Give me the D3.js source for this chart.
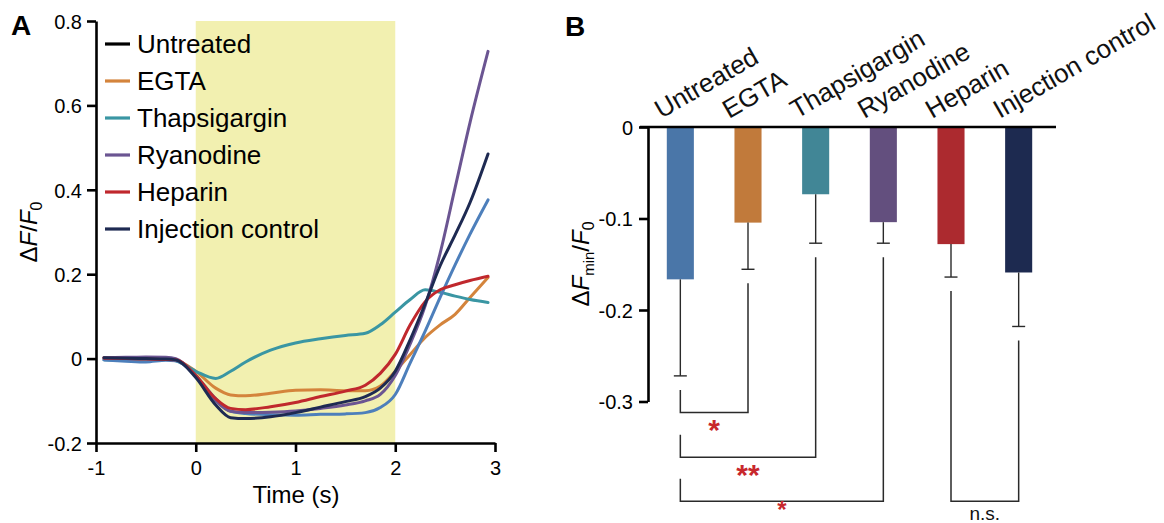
<!DOCTYPE html>
<html><head><meta charset="utf-8">
<script src="https://cdn.jsdelivr.net/npm/d3@7/dist/d3.min.js"></script>
<style>
body{margin:0;background:#fff;}
svg{display:block;font-family:"Liberation Sans",Arial,Helvetica,sans-serif;}
</style></head>
<body><svg id="c" width="1164" height="523"></svg>
<script>
// ---------- DATA ----------
const seriesNames = ["Untreated","EGTA","Thapsigargin","Ryanodine","Heparin","Injection control"];
const time = [-0.92,-0.7,-0.5,-0.3,-0.2,0,0.2,0.35,0.5,0.75,1.0,1.25,1.5,1.7,1.85,2.0,2.15,2.3,2.45,2.6,2.75,2.93];
const untreated   = [-0.003,-0.006,-0.008,-0.004,-0.005,-0.04,-0.095,-0.125,-0.13,-0.133,-0.134,-0.132,-0.131,-0.128,-0.116,-0.085,-0.01,0.065,0.145,0.222,0.295,0.376];
const egta        = [0.002,0.001,0.0,-0.002,-0.004,-0.03,-0.07,-0.086,-0.088,-0.082,-0.075,-0.074,-0.076,-0.076,-0.065,-0.03,0.01,0.05,0.08,0.105,0.145,0.192];
const thapsigargin= [-0.003,-0.004,-0.003,-0.002,-0.005,-0.03,-0.047,-0.03,-0.008,0.02,0.037,0.047,0.055,0.06,0.08,0.11,0.14,0.163,0.157,0.148,0.14,0.133];
const ryanodine   = [0.002,0.003,0.004,0.003,0.0,-0.04,-0.1,-0.125,-0.128,-0.127,-0.124,-0.118,-0.11,-0.1,-0.085,-0.04,0.035,0.125,0.25,0.405,0.56,0.728];
const heparin     = [0.001,0.0,-0.001,-0.002,-0.003,-0.04,-0.095,-0.118,-0.121,-0.114,-0.104,-0.09,-0.077,-0.063,-0.035,0.01,0.08,0.135,0.163,0.175,0.185,0.195];
const injection   = [0.002,0.001,0.0,-0.001,-0.003,-0.045,-0.11,-0.14,-0.142,-0.138,-0.128,-0.115,-0.102,-0.09,-0.07,-0.03,0.045,0.13,0.22,0.293,0.37,0.485];
const stimulus = [0, 2];
const xTicksA = [-1,0,1,2,3];
const xTickLabelsA = ["-1","0","1","2","3"];
const yTicksA = [-0.2,0,0.2,0.4,0.6,0.8];
const yTickLabelsA = ["-0.2","0","0.2","0.4","0.6","0.8"];

const barMeans = [-0.1665,-0.1045,-0.0735,-0.104,-0.128,-0.159];
const barErrEnds = [-0.272,-0.1555,-0.127,-0.127,-0.164,-0.218];
const yTicksB = [0,-0.1,-0.2,-0.3];
const yTickLabelsB = ["0","-0.1","-0.2","-0.3"];
const brackets = [ // [from, to, label, level]
  [0,1,"*",-0.312],
  [0,2,"**",-0.361],
  [0,3,"*",-0.409],
  [4,5,"n.s.",-0.409]
];

// ---------- STYLE ----------
const lineColors = ["#4d7fbb","#d4843c","#3a96a3","#6b5592","#c0282d","#1e2a52"];
const legendColors = ["#000000","#d4843c","#3a96a3","#6b5592","#c0282d","#1e2a52"];
const barColors = ["#4a76a8","#c17a3b","#418696","#634f7e","#ac2a2f","#1d2a50"];
const drawOrder = [1,2,0,3,4,5];

const svg = d3.select("#c");

// ---------- PANEL A ----------
const xA = d3.scaleLinear().domain([-1,3]).range([96,495]);
const yA = d3.scaleLinear().domain([-0.2,0.8]).range([443,21]);
const gA = svg.append("g");

gA.append("rect")
  .attr("x", xA(stimulus[0])).attr("y", yA(0.8))
  .attr("width", xA(stimulus[1]) - xA(stimulus[0]))
  .attr("height", yA(-0.2) - yA(0.8))
  .attr("fill", "#f2f0b0");

const seriesData = [untreated, egta, thapsigargin, ryanodine, heparin, injection];
const line = d3.line().x((d,i)=>xA(time[i])).y(d=>yA(d)).curve(d3.curveMonotoneX);
drawOrder.forEach(k=>{
  gA.append("path").datum(seriesData[k])
    .attr("d", line).attr("fill","none")
    .attr("stroke", lineColors[k]).attr("stroke-width",3)
    .attr("stroke-linecap","round").attr("stroke-linejoin","round");
});

const axA_y = gA.append("g").attr("transform","translate(96,0)")
  .call(d3.axisLeft(yA).tickValues(yTicksA).tickSize(9).tickSizeOuter(0).tickPadding(5)
    .tickFormat((d,i)=>yTickLabelsA[i]));
const axA_x = gA.append("g").attr("transform","translate(0,443)")
  .call(d3.axisBottom(xA).tickValues(xTicksA).tickSize(9).tickSizeOuter(0).tickPadding(9)
    .tickFormat((d,i)=>xTickLabelsA[i]));
[axA_y, axA_x].forEach(a=>{
  a.select(".domain").attr("stroke","#000").attr("stroke-width",2.6);
  a.selectAll(".tick line").attr("stroke","#000").attr("stroke-width",2.6);
  a.selectAll(".tick text").attr("font-size",20).attr("fill","#000")
    .attr("font-family","Liberation Sans, Arial, sans-serif");
});
axA_y.selectAll(".tick text").attr("dy","0.36em");

// legend
seriesNames.forEach((n,i)=>{
  const y = 44 + i*37;
  gA.append("line").attr("x1",105).attr("x2",130).attr("y1",y).attr("y2",y)
    .attr("stroke",legendColors[i]).attr("stroke-width",3.2);
  gA.append("text").attr("x",137).attr("y",y+9).attr("font-size",26).text(n);
});

// axis labels
gA.append("text").attr("x",296).attr("y",503).attr("text-anchor","middle")
  .attr("font-size",24).text("Time (s)");
const yla = gA.append("text").attr("transform","translate(37,232) rotate(-90)")
  .attr("text-anchor","middle").attr("font-size",24);
yla.append("tspan").text("Δ");
yla.append("tspan").attr("font-style","italic").text("F");
yla.append("tspan").text("/");
yla.append("tspan").attr("font-style","italic").text("F");
yla.append("tspan").attr("font-size",16).attr("dy",5).text("0");

svg.append("text").attr("x",11).attr("y",35).attr("font-size",28).attr("font-weight","bold").text("A");

// ---------- PANEL B ----------
const xB = d3.scaleBand().domain(seriesNames).range([646.5,1052.5]).paddingInner(0.6).paddingOuter(0.3);
const yB = d3.scaleLinear().domain([-0.3,0]).range([401.5,127]);
const gB = svg.append("g");
const cx = i => xB(seriesNames[i]) + xB.bandwidth()/2;

gB.selectAll("rect.bar").data(barMeans).enter().append("rect")
  .attr("x",(d,i)=>xB(seriesNames[i])).attr("width",xB.bandwidth())
  .attr("y",yB(0)).attr("height",d=>yB(d)-yB(0))
  .attr("fill",(d,i)=>barColors[i]);

// error bars
barErrEnds.forEach((e,i)=>{
  gB.append("line").attr("x1",cx(i)).attr("x2",cx(i)).attr("y1",yB(barMeans[i])).attr("y2",yB(e))
    .attr("stroke","#2a2a2a").attr("stroke-width",1.4);
  gB.append("line").attr("x1",cx(i)-6.5).attr("x2",cx(i)+6.5).attr("y1",yB(e)).attr("y2",yB(e))
    .attr("stroke","#2a2a2a").attr("stroke-width",1.4);
});

// brackets
const gap = 14;
brackets.forEach((b,k)=>{
  const [a,c,lab,lev] = b;
  const yl = yB(lev);
  const ya = (a===0) ? yl-22.5 : yB(barErrEnds[a])+gap;
  const yc = yB(barErrEnds[c])+gap;
  gB.append("path")
    .attr("d",`M${cx(a)},${ya}V${yl}H${cx(c)}V${yc}`)
    .attr("fill","none").attr("stroke","#2a2a2a").attr("stroke-width",1.5);
  if(lab==="n.s."){
    gB.append("text").attr("x",(cx(a)+cx(c))/2).attr("y",yl+18.5).attr("text-anchor","middle")
      .attr("font-size",19).attr("fill","#111").text(lab);
  } else {
    const bottom = (k===2);
    gB.append("text").attr("x",(cx(a)+cx(c))/2).attr("y",bottom ? 518 : yl+28).attr("text-anchor","middle")
      .attr("font-size",bottom ? 24 : 30).attr("font-weight","bold").attr("fill","#c8282d").text(lab);
  }
});

// zero line + y axis
gB.append("line").attr("x1",640).attr("x2",1056).attr("y1",yB(0)).attr("y2",yB(0))
  .attr("stroke","#000").attr("stroke-width",2.6);
const axB = gB.append("g").attr("transform","translate(648,0)")
  .call(d3.axisLeft(yB).tickValues(yTicksB).tickSize(9).tickSizeOuter(0).tickPadding(6)
    .tickFormat((d,i)=>yTickLabelsB[i]));
axB.select(".domain").attr("stroke","#000").attr("stroke-width",2.6);
axB.selectAll(".tick line").attr("stroke","#000").attr("stroke-width",2.6);
axB.selectAll(".tick text").attr("font-size",20).attr("fill","#000").attr("dy","0.36em")
  .attr("font-family","Liberation Sans, Arial, sans-serif");

// category labels (rotated)
seriesNames.forEach((n,i)=>{
  gB.append("text").attr("transform",`translate(${cx(i)-19},119) rotate(-30)`)
    .attr("font-size",26).attr("fill","#111").text(n);
});

const ylb = gB.append("text").attr("transform","translate(589,264) rotate(-90)")
  .attr("text-anchor","middle").attr("font-size",24);
ylb.append("tspan").text("Δ");
ylb.append("tspan").attr("font-style","italic").text("F");
ylb.append("tspan").attr("font-size",15).attr("dy",5).text("min");
ylb.append("tspan").attr("dy",-5).text("/");
ylb.append("tspan").attr("font-style","italic").text("F");
ylb.append("tspan").attr("font-size",16).attr("dy",5).text("0");

svg.append("text").attr("x",565).attr("y",36).attr("font-size",28).attr("font-weight","bold").text("B");
</script></body></html>
